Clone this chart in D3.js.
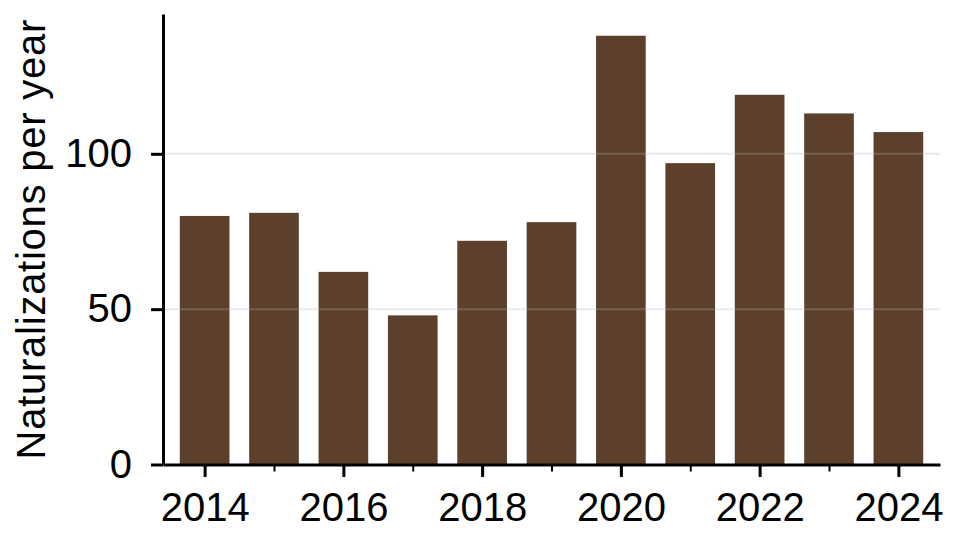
<!DOCTYPE html>
<html>
<head>
<meta charset="utf-8">
<script src="https://cdn.jsdelivr.net/npm/d3@7"></script>
<style>
  body { margin: 0; background: #fff; }
  svg { display: block; font-family: "Liberation Sans", Arial, sans-serif; }
</style>
</head>
<body>
<svg id="chart" width="962" height="546"></svg>
<script>
const years = [2014, 2015, 2016, 2017, 2018, 2019, 2020, 2021, 2022, 2023, 2024]
const naturalizations = [80, 81, 62, 48, 72, 78, 138, 97, 119, 113, 107]
const yTicks = [0, 50, 100]
const labelYears = [2014, 2016, 2018, 2020, 2022, 2024]

const plotLeft = 163
const plotRight = 940
const plotTop = 14
const plotBottom = 464.5

const svg = d3.select('#chart')

const x = d3.scaleLinear().domain([2013.4, 2024.6]).range([plotLeft, plotRight])
const y = d3.scaleLinear().domain([0, 145]).range([plotBottom, plotTop])
const barWidth = (x(2015) - x(2014)) * 0.716

// bars
svg.append('g')
    .selectAll('rect')
    .data(years)
    .join('rect')
    .attr('x', d => x(d) - barWidth / 2)
    .attr('width', barWidth)
    .attr('y', (d, i) => y(naturalizations[i]))
    .attr('height', (d, i) => plotBottom - y(naturalizations[i]))
    .attr('fill', '#5c402c')

// gridlines, drawn over the bars with some transparency
svg.append('g')
    .selectAll('line')
    .data(yTicks.filter(d => d > 0))
    .join('line')
    .attr('x1', plotLeft)
    .attr('x2', plotRight)
    .attr('y1', d => y(d))
    .attr('y2', d => y(d))
    .attr('stroke', '#b8b8b8')
    .attr('stroke-opacity', 0.28)
    .attr('stroke-width', 2)

// y axis
const yAxis = svg.append('g')
    .attr('transform', `translate(${plotLeft},0)`)
    .call(d3.axisLeft(y).tickValues(yTicks).tickSize(12).tickSizeOuter(0).tickPadding(19))
yAxis.select('.domain').attr('stroke', '#000').attr('stroke-width', 3)
yAxis.selectAll('.tick line').attr('stroke', '#000').attr('stroke-width', 3)
yAxis.selectAll('.tick text')
    .attr('font-size', 40)
    .attr('fill', '#000')
    .attr('font-family', '"Liberation Sans", Arial, sans-serif')

// x axis
const xAxis = svg.append('g')
    .attr('transform', `translate(0,${plotBottom})`)
    .call(d3.axisBottom(x).tickValues(years).tickFormat(d3.format('d'))
        .tickSize(12.5).tickSizeOuter(0).tickPadding(16))
xAxis.select('.domain').attr('stroke', '#000').attr('stroke-width', 3)
xAxis.selectAll('.tick line').attr('stroke', '#000').attr('stroke-width', 3)
xAxis.selectAll('.tick text')
    .attr('font-size', 40)
    .attr('fill', '#000')
    .attr('font-family', '"Liberation Sans", Arial, sans-serif')
xAxis.selectAll('.tick')
    .filter(d => !labelYears.includes(d))
    .call(t => t.select('line').attr('y2', 7).attr('stroke-width', 2))
    .call(t => t.select('text').remove())

// y axis title
svg.append('text')
    .attr('transform', `translate(45,${(plotTop + plotBottom) / 2}) rotate(-90)`)
    .attr('text-anchor', 'middle')
    .attr('font-size', 40)
    .attr('letter-spacing', 0.75)
    .attr('fill', '#000')
    .text('Naturalizations per year')
</script>
</body>
</html>
